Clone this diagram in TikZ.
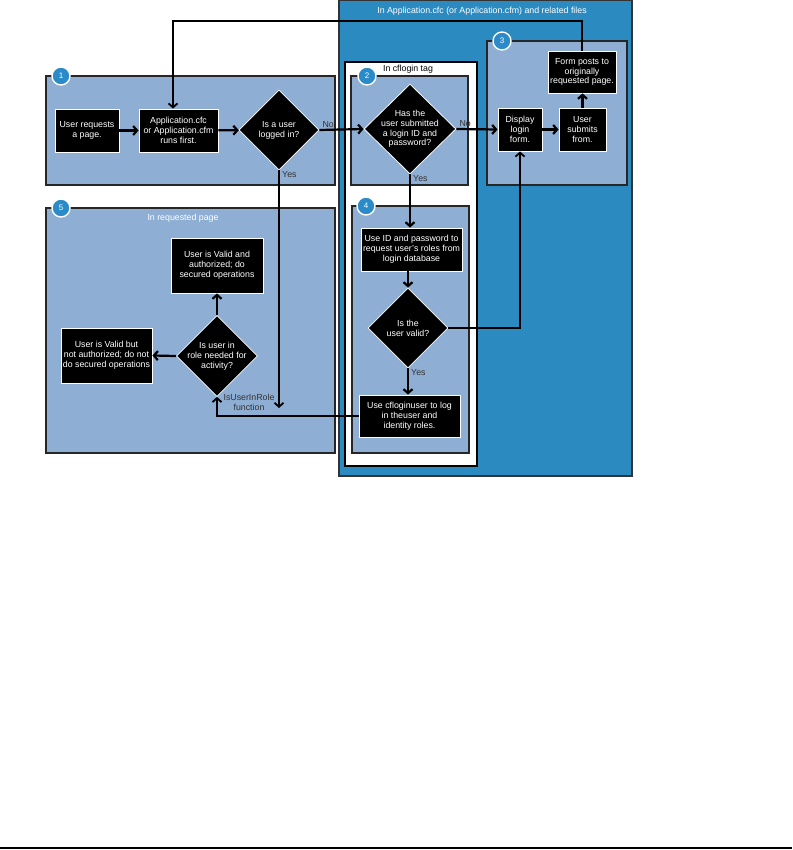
\documentclass[tikz,border=0pt]{standalone}
\usepackage{fontspec}
\setmainfont{Liberation Sans}
\usetikzlibrary{arrows.meta,positioning,shapes.geometric}
\definecolor{paleblue}{HTML}{8FAED3}
\definecolor{deepblue}{HTML}{2B8BC1}
\definecolor{badgeblue}{HTML}{2A8BC8}
\definecolor{inkgray}{HTML}{333333}

\begin{document}
\begin{tikzpicture}[x=1pt,y=-1pt]

\tikzset{>={Straight Barb[length=4pt,width=9pt]}}
\tikzset{blackbox/.style={rectangle,fill=black,draw=white,line width=0.8pt,text=white,align=center,inner sep=0pt,font=\fontsize{8.8}{9.8}\selectfont},
	decision/.style={diamond,fill=black,draw=white,line width=0.8pt,text=white,align=center,inner sep=-1.5pt,font=\fontsize{8.8}{9.8}\selectfont},
	region/.style={fill=paleblue,draw=black!85,line width=1.6pt},
	badge/.style={circle,fill=badgeblue,draw=white,line width=1.4pt,text=white,minimum size=18pt,inner sep=0pt,font=\fontsize{8}{8}\selectfont},
	flow/.style={->,line width=2.2pt},
	link/.style={line width=1.8pt},
	tag/.style={font=\fontsize{8.8}{9.8}\selectfont,text=inkgray,inner sep=1pt}}

\useasboundingbox (0,0) rectangle (792,850);

\draw[fill=deepblue,draw=black!80,line width=1.2pt] (339,0) rectangle (632,476);
\node[tag,text=white] at (482,11) [name=apptitle] {In Application.cfc (or Application.cfm) and related files};
\draw[fill=white,draw=black,line width=1.6pt] (345,62) rectangle (477,466);
\node[tag,text=black] at (408,69) [name=cflogintag] {In cflogin tag};

\draw[region] (46,76) rectangle (335,185);
\draw[region] (351,76) rectangle (468,185);
\draw[region] (487,41) rectangle (627,185);
\draw[region] (352,206) rectangle (469,453);
\draw[region] (46,208) rectangle (335,453);
\node[tag,text=white] at (183,218) [name=reqpage] {In requested page};

\node[badge] at (61,76) [name=b1] {1};
\node[badge] at (367,76) [name=b2] {2};
\node[badge] at (502,41) [name=b3] {3};
\node[badge] at (366,206) [name=b4] {4};
\node[badge] at (61,208) [name=b5] {5};

%===================================================================
\node[blackbox] at (87,130.5) [name=req,minimum width=64,minimum height=43] {User requests\\a page.};
\node[blackbox] at (178.5,130.5) [name=app,minimum width=79,minimum height=43] {Application.cfc\\or Application.cfm\\runs first.};
\node[decision] at (279,130) [name=logged,minimum width=80,minimum height=80] {Is a user\\logged in?};
\node[decision] at (410,129) [name=submitted,minimum width=92,minimum height=90] {Has the\\user submitted\\a login ID and\\password?};
\node[blackbox] at (520,129.5) [name=display,minimum width=44,minimum height=43] {Display\\login\\form.};
\node[blackbox] at (582.5,129.5) [name=submits,minimum width=47,minimum height=43] {User\\submits\\from.};
\node[blackbox] at (582,72) [name=posts,minimum width=68,minimum height=42] {Form posts to\\originally\\requested page.};

\node[blackbox] at (411.5,249.5) [name=useid,minimum width=101,minimum height=43] {Use ID and password to\\request user's roles from\\login database};
\node[decision] at (408,328) [name=valid,minimum width=80,minimum height=80] {Is the\\user valid?};
\node[blackbox] at (409.5,416) [name=loginuser,minimum width=101,minimum height=42] {Use cfloginuser to log\\in theuser and\\identity roles.};

\node[blackbox] at (217,265.5) [name=authd,minimum width=92,minimum height=55] {User is Valid and\\authorized; do\\secured operations};
\node[decision] at (217,356) [name=role,minimum width=80,minimum height=78] {Is user in\\role needed for\\activity?};
\node[blackbox] at (106.5,355.5) [name=notauth,minimum width=91,minimum height=55] {User is Valid but\\not authorized; do not\\do secured operations};

%===================================================================
\coordinate (looptop) at (173,21);
\coordinate (rolejoin) at (279,408);

\draw[flow] (req) -- (app);
\draw[flow] (app) -- (logged);
\draw[flow] (logged.east) -- (submitted.west);
\node[tag,above right=1pt and 2pt of logged.east,name=no1] {No};
\draw[flow] (submitted.east) -- (display.west);
\node[tag,above right=1pt and 2pt of submitted.east,name=no2] {No};
\draw[flow] (display) -- (submits);
\draw[flow] (submits.north) -- (submits.north |- posts.south);
\draw[link,->] (posts.north) |- (looptop) -- (looptop |- app.north);

\draw[flow,line width=1.8pt] (logged.south) -- (rolejoin);
\node[tag,below right=0pt and 2pt of logged.south,name=yes1] {Yes};
\draw[flow] (submitted.south) -- (submitted.south |- useid.north);
\node[tag,below right=0pt and 2pt of submitted.south,name=yes2] {Yes};
\draw[flow] (valid.north |- useid.south) -- (valid.north);
\draw[flow] (valid.south) -- (valid.south |- loginuser.north);
\node[tag,below right=0pt and 2pt of valid.south,name=yes3] {Yes};
\draw[link,->] (valid.east) -| (display.south);

\draw[link,->] (loginuser.west) -| (role.south);
\node[tag,align=center] at (249,402) [name=rolefn] {IsUserInRole\\function};
\draw[flow] (role.north) -- (role.north |- authd.south);
\draw[flow] (role.west) -- (notauth.east);

\draw[line width=1.3pt] (0,848) -- (792,848);
\end{tikzpicture}
\end{document}
